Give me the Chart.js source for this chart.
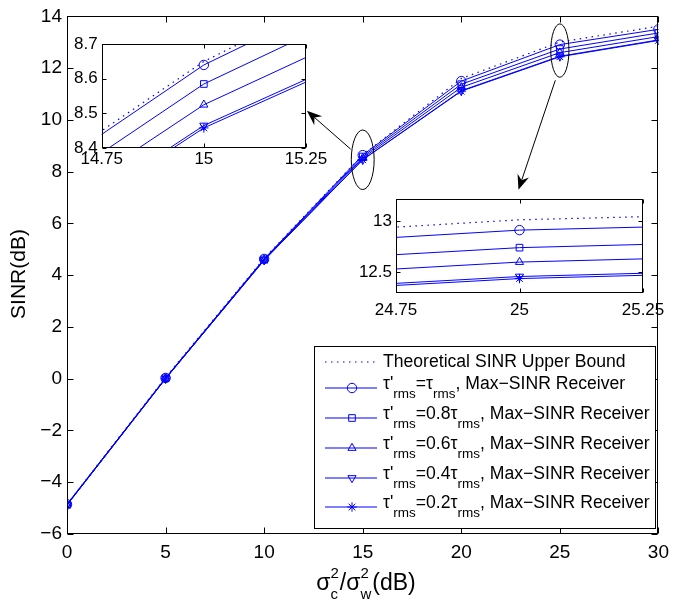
<!DOCTYPE html>
<html>
<head>
<meta charset="utf-8">
<script src="https://cdn.jsdelivr.net/npm/chart.js@4.4.0/dist/chart.umd.min.js"></script>
<style>
    html, body { margin: 0; padding: 0; background: #fff; }
    #wrap { position: relative; width: 676px; height: 610px; }
    canvas { position: absolute; }
</style>
</head>
<body>
<div id="wrap">
    <canvas id="mainChart" width="676" height="610" style="left:0;top:0;width:676px;height:610px"></canvas>
    <canvas id="zoom15" width="270" height="140" style="left:67px;top:30px;width:270px;height:140px"></canvas>
    <canvas id="zoom25" width="330" height="135" style="left:346px;top:185px;width:330px;height:135px"></canvas>
</div>
<script>
// sigma_c^2 / sigma_w^2 in dB
const snrDb = [0, 5, 10, 15, 20, 25, 30];

// SINR (dB)
const upperBound = [-4.85, 0.05, 4.65, 8.65, 11.6, 13.01, 13.62];
const sinrTau10 = [-4.85, 0.03, 4.63, 8.64, 11.5, 12.91, 13.5];
const sinrTau08 = [-4.86, 0.02, 4.61, 8.585, 11.38, 12.74, 13.36];
const sinrTau06 = [-4.87, 0.01, 4.6, 8.525, 11.26, 12.6, 13.22];
const sinrTau04 = [-4.88, 0.0, 4.58, 8.465, 11.13, 12.46, 13.09];
const sinrTau02 = [-4.88, 0.0, 4.58, 8.458, 11.11, 12.44, 13.07];

const tauRatios = ['', '0.8', '0.6', '0.4', '0.2'];
const upperBoundLabel = 'Theoretical SINR Upper Bound';

// tick labels
const mainXTicks = [0, 5, 10, 15, 20, 25, 30];
const mainYTicks = [-6, -4, -2, 0, 2, 4, 6, 8, 10, 12, 14];
const zoom15XTicks = [14.75, 15, 15.25];
const zoom15YTicks = [8.4, 8.5, 8.6, 8.7];
const zoom25XTicks = [24.75, 25, 25.25];
const zoom25YTicks = [12.5, 13];

// ellipses and arrows, in data units of the main axes
const ellipseMarks = [
    { x: 15, y: 8.46, rx: 0.58, ry: 1.15 },
    { x: 25, y: 12.68, rx: 0.46, ry: 1.03 }
];
const arrowMarks = [
    { from: [14.39, 8.87], to: [12.17, 10.35] },
    { from: [24.77, 11.53], to: [22.9, 7.3] }
];

const FONT = "'Liberation Sans', Arial, Helvetica, sans-serif";
const BLUE = '#0000ff';
const seriesValues = [sinrTau10, sinrTau08, sinrTau06, sinrTau04, sinrTau02];
const pointStyles = ['circle', 'rect', 'triangle', 'triangle', 'star'];
const pointRotations = [0, 0, 0, 180, 0];

Chart.defaults.font.family = FONT;
Chart.defaults.color = '#000';

function toPoints(values) {
    return snrDb.map((x, i) => ({ x: x, y: values[i] }));
}

function makeDatasets(clip) {
    const sets = [{
        data: toPoints(upperBound),
        borderColor: BLUE,
        borderWidth: 1.2,
        borderDash: [1.5, 4.5],
        pointRadius: 0,
        fill: false,
        clip: clip
    }];
    seriesValues.forEach((vals, i) => {
        sets.push({
            data: toPoints(vals),
            borderColor: BLUE,
            borderWidth: 1,
            pointStyle: pointStyles[i],
            rotation: pointRotations[i],
            pointRadius: 4.7,
            pointBorderColor: BLUE,
            pointBackgroundColor: 'rgba(0,0,0,0)',
            pointBorderWidth: 1,
            fill: false,
            clip: clip
        });
    });
    return sets;
}

function fmtTick(v) {
    const s = String(Number(v.toFixed(2)));
    return s.replace('-', '\u2212');
}

function makeScale(min, max, tickList, fitSize, horizontal, fontSize, pad) {
    return {
        type: 'linear',
        min: min,
        max: max,
        grid: { display: false, drawTicks: false },
        border: { display: false },
        afterBuildTicks: s => { s.ticks = tickList.map(v => ({ value: v })); },
        afterFit: s => {
            if (horizontal) s.height = fitSize;
            else s.width = fitSize;
        },
        ticks: {
            padding: pad,
            color: '#000',
            font: { size: fontSize },
            maxRotation: 0,
            autoSkip: false,
            callback: v => fmtTick(v)
        }
    };
}

// white plot box, black frame, ticks pointing inwards on all four sides
const axesFrame = {
    id: 'axesFrame',
    beforeDraw(chart) {
        const a = chart.chartArea;
        const ctx = chart.ctx;
        ctx.save();
        ctx.fillStyle = '#fff';
        ctx.fillRect(a.left, a.top, a.right - a.left, a.bottom - a.top);
        ctx.restore();
    },
    afterDatasetsDraw(chart, args, opts) {
        const a = chart.chartArea;
        const ctx = chart.ctx;
        const len = opts.tickLen || 5;
        const L = Math.round(a.left) + 0.5;
        const R = Math.round(a.right) - 0.5;
        const T = Math.round(a.top) + 0.5;
        const B = Math.round(a.bottom) - 0.5;
        ctx.save();
        ctx.strokeStyle = '#000';
        ctx.lineWidth = 1;
        ctx.beginPath();
        chart.scales.x.ticks.forEach(t => {
            const px = Math.round(chart.scales.x.getPixelForValue(t.value)) + 0.5;
            ctx.moveTo(px, B); ctx.lineTo(px, B - len);
            ctx.moveTo(px, T); ctx.lineTo(px, T + len);
        });
        chart.scales.y.ticks.forEach(t => {
            const py = Math.round(chart.scales.y.getPixelForValue(t.value)) + 0.5;
            ctx.moveTo(L, py); ctx.lineTo(L + len, py);
            ctx.moveTo(R, py); ctx.lineTo(R - len, py);
        });
        ctx.stroke();
        ctx.strokeRect(L, T, R - L, B - T);
        ctx.restore();
    }
};

function drawParts(ctx, parts, x, y) {
    // parts: [text, kind] where kind is 'n' or 'sub'
    parts.forEach(p => {
        if (p[1] === 'sub') {
            ctx.font = '13.5px ' + FONT;
            ctx.fillText(p[0], x, y + 10);
        } else {
            ctx.font = '17.6px ' + FONT;
            ctx.fillText(p[0], x, y);
        }
        x += ctx.measureText(p[0]).width;
    });
}

// ellipses, arrows, legend, axis titles
const mainExtras = {
    id: 'mainExtras',
    afterDatasetsDraw(chart) {
        const ctx = chart.ctx;
        const xs = chart.scales.x, ys = chart.scales.y;
        ctx.save();
        ctx.strokeStyle = '#000';
        ctx.fillStyle = '#000';
        ctx.lineWidth = 1;

        ellipseMarks.forEach(e => {
            const cx = xs.getPixelForValue(e.x), cy = ys.getPixelForValue(e.y);
            const rx = Math.abs(xs.getPixelForValue(e.x + e.rx) - cx);
            const ry = Math.abs(ys.getPixelForValue(e.y + e.ry) - cy);
            ctx.beginPath();
            ctx.ellipse(cx, cy, rx, ry, 0, 0, Math.PI * 2);
            ctx.stroke();
        });

        arrowMarks.forEach(a => {
            const x0 = xs.getPixelForValue(a.from[0]), y0 = ys.getPixelForValue(a.from[1]);
            const x1 = xs.getPixelForValue(a.to[0]), y1 = ys.getPixelForValue(a.to[1]);
            const d = Math.hypot(x1 - x0, y1 - y0);
            const ux = (x1 - x0) / d, uy = (y1 - y0) / d;
            const nx = -uy, ny = ux;
            const headLen = 15, headW = 6, notch = 10;
            ctx.beginPath();
            ctx.moveTo(x0, y0);
            ctx.lineTo(x1 - ux * notch, y1 - uy * notch);
            ctx.stroke();
            ctx.beginPath();
            ctx.moveTo(x1, y1);
            ctx.lineTo(x1 - ux * headLen + nx * headW, y1 - uy * headLen + ny * headW);
            ctx.lineTo(x1 - ux * notch, y1 - uy * notch);
            ctx.lineTo(x1 - ux * headLen - nx * headW, y1 - uy * headLen - ny * headW);
            ctx.closePath();
            ctx.fill();
        });
        ctx.restore();
    },
    afterDraw(chart) {
        const ctx = chart.ctx;
        ctx.save();

        // legend
        const box = { x: 314.5, y: 346.5, w: 341, h: 182 };
        ctx.fillStyle = '#fff';
        ctx.fillRect(box.x, box.y, box.w, box.h);
        ctx.strokeStyle = '#000';
        ctx.lineWidth = 1;
        ctx.strokeRect(box.x, box.y, box.w, box.h);

        const rowY = [362, 388, 418, 448, 478, 507];
        const lineX0 = 325, lineX1 = 377, markX = 352, textX = 383;
        ctx.textBaseline = 'middle';
        ctx.textAlign = 'left';

        ctx.strokeStyle = BLUE;
        ctx.setLineDash([1.5, 4.5]);
        ctx.lineWidth = 1.2;
        ctx.beginPath();
        ctx.moveTo(lineX0, rowY[0]); ctx.lineTo(lineX1, rowY[0]);
        ctx.stroke();
        ctx.setLineDash([]);
        ctx.fillStyle = '#000';
        ctx.font = '17.6px ' + FONT;
        ctx.fillText(upperBoundLabel, textX, rowY[0]);

        tauRatios.forEach((r, i) => {
            const y = rowY[i + 1];
            ctx.strokeStyle = BLUE;
            ctx.lineWidth = 1;
            ctx.beginPath();
            ctx.moveTo(lineX0, y); ctx.lineTo(lineX1, y);
            ctx.stroke();
            ctx.strokeStyle = BLUE;
            ctx.fillStyle = 'rgba(0,0,0,0)';
            Chart.helpers.drawPoint(ctx, {
                pointStyle: pointStyles[i], radius: 4.7,
                rotation: pointRotations[i], borderWidth: 1
            }, markX, y);
            ctx.fillStyle = '#000';
            drawParts(ctx, [
                ["\u03c4'", 'n'], ['rms', 'sub'], ['=' + r + '\u03c4', 'n'],
                ['rms', 'sub'], [', Max\u2212SINR Receiver', 'n']
            ], textX, y - 4);
        });

        // y title
        ctx.fillStyle = '#000';
        ctx.font = '21px ' + FONT;
        ctx.textAlign = 'center';
        ctx.translate(19, 274);
        ctx.rotate(-Math.PI / 2);
        ctx.fillText('SINR(dB)', 0, 0);
        ctx.setTransform(1, 0, 0, 1, 0, 0);

        // x title: sigma_c^2 / sigma_w^2 (dB)
        const big = '23px ' + FONT, small = '15px ' + FONT;
        const pieces = [
            ['\u03c3', null], ['c', '2'], ['/\u03c3', null], ['w', '2'], ['(dB)', null]
        ];
        const widthOf = p => {
            if (p[1] === null) { ctx.font = big; return ctx.measureText(p[0]).width; }
            ctx.font = small;
            return Math.max(ctx.measureText(p[0]).width, ctx.measureText(p[1]).width) + 1;
        };
        const total = pieces.reduce((s, p) => s + widthOf(p), 0);
        let x = 366 - total / 2;
        const yMid = 584;
        ctx.textAlign = 'left';
        pieces.forEach(p => {
            const w = widthOf(p);
            if (p[1] === null) {
                ctx.font = big;
                ctx.fillText(p[0], x, yMid);
            } else {
                ctx.font = small;
                ctx.fillText(p[0], x, yMid + 11);
                ctx.fillText(p[1], x, yMid - 10);
            }
            x += w;
        });
        ctx.restore();
    }
};

function baseOptions(tickLen) {
    return {
        responsive: false,
        animation: false,
        events: [],
        plugins: {
            legend: { display: false },
            tooltip: { enabled: false },
            axesFrame: { tickLen: tickLen }
        }
    };
}

function main() {
    const mainOpts = baseOptions(6);
    mainOpts.layout = { padding: { top: 14, right: 12, left: 0, bottom: 0 } };
    mainOpts.scales = {
        x: makeScale(0, 30, mainXTicks, 76, true, 19, 7),
        y: makeScale(-6, 14, mainYTicks, 67, false, 19, 5)
    };
    new Chart(document.getElementById('mainChart'), {
        type: 'line',
        data: { datasets: makeDatasets(undefined) },
        options: mainOpts,
        plugins: [axesFrame, mainExtras]
    });

    const z15Opts = baseOptions(4);
    z15Opts.layout = { padding: { top: 12, right: 31, left: 0, bottom: 0 } };
    z15Opts.scales = {
        x: makeScale(14.75, 15.25, zoom15XTicks, 22, true, 17, 1),
        y: makeScale(8.4, 8.7, zoom15YTicks, 34.7, false, 17, 4)
    };
    new Chart(document.getElementById('zoom15'), {
        type: 'line',
        data: { datasets: makeDatasets(0) },
        options: z15Opts,
        plugins: [axesFrame]
    });

    const z25Opts = baseOptions(4);
    z25Opts.layout = { padding: { top: 12, right: 33, left: 0, bottom: 0 } };
    z25Opts.scales = {
        x: makeScale(24.75, 25.25, zoom25XTicks, 27, true, 17, 7),
        y: makeScale(12.3, 13.21, zoom25YTicks, 50, false, 17, 4)
    };
    new Chart(document.getElementById('zoom25'), {
        type: 'line',
        data: { datasets: makeDatasets(0) },
        options: z25Opts,
        plugins: [axesFrame]
    });
}

document.addEventListener("DOMContentLoaded", () => {
    main();
});
</script>
</body>
</html>
